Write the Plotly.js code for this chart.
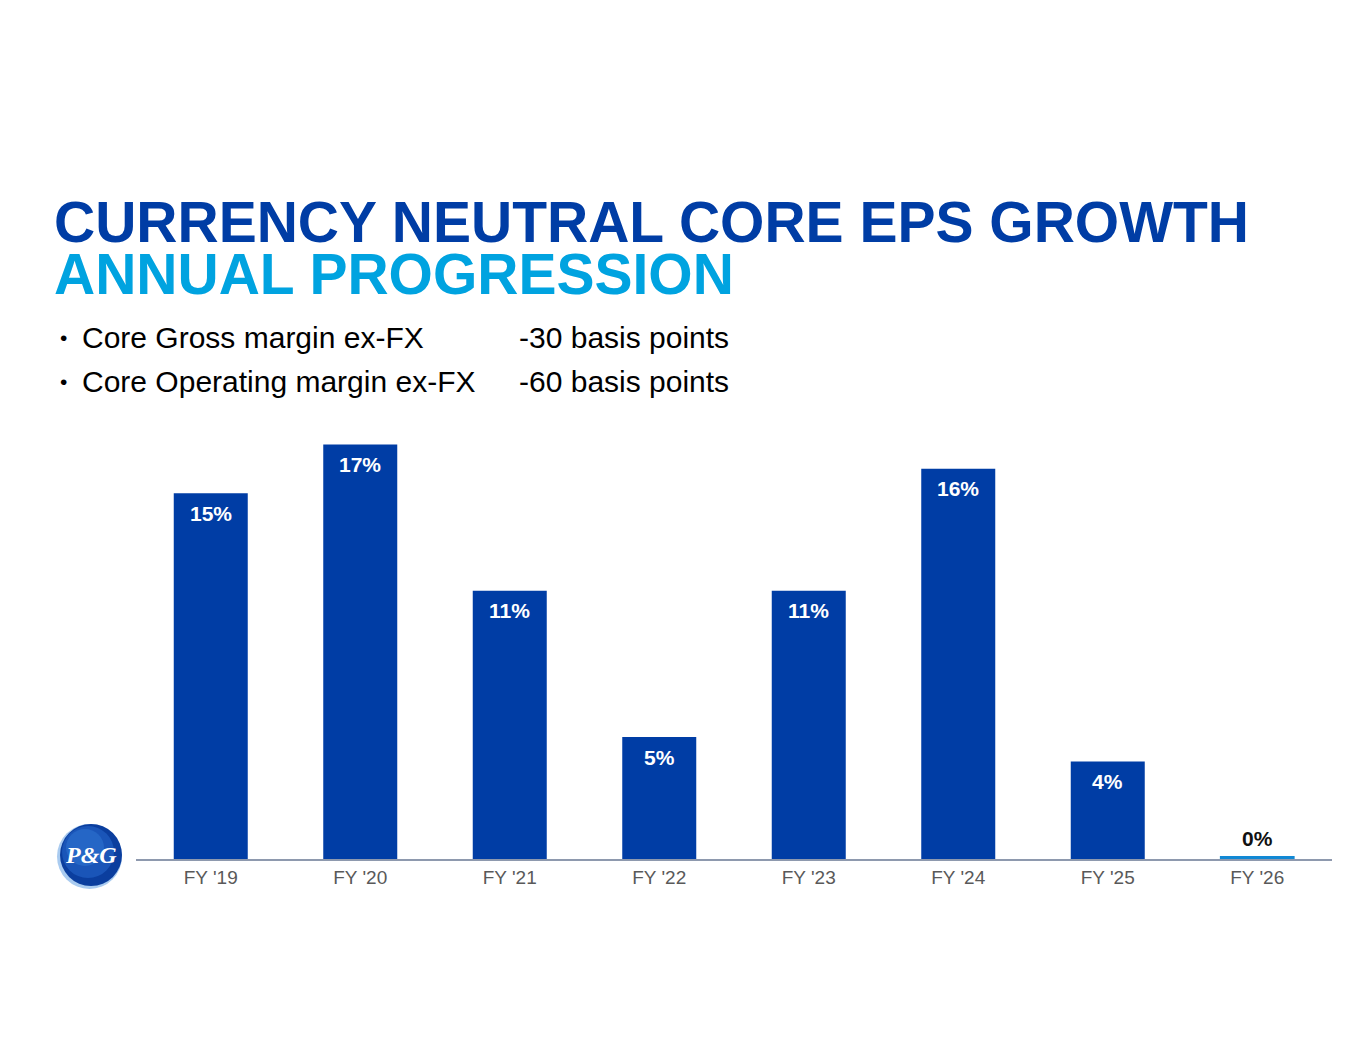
<!DOCTYPE html>
<html>
<head>
<meta charset="utf-8">
<script src="https://cdn.plot.ly/plotly-3.0.1.min.js"></script>
<style>
  html, body { margin: 0; padding: 0; background: #fff; }
  #chart { width: 1365px; height: 1055px; }
</style>
</head>
<body>
<div id="chart"></div>
<script>
// data
const years = ["FY '19", "FY '20", "FY '21", "FY '22", "FY '23", "FY '24", "FY '25", "FY '26"];
const epsGrowth = [15, 17, 11, 5, 11, 16, 4, 0];
const bulletLabels = ["Core Gross margin ex-FX", "Core Operating margin ex-FX"];
const bulletValues = ["-30 basis points", "-60 basis points"];

const DARK_BLUE = '#003DA5';
const LIGHT_BLUE = '#00A3E0';
const ZERO_BLUE = '#1188D4';
const FONT = 'Liberation Sans, Arial, sans-serif';

// plot area in page pixels (used only to place the free text)
const PL = 136, PR = 1332, PB = 859, PT = 420;
const px = x => (x - PL) / (PR - PL);
const py = y => (PB - y) / (PB - PT);

const annotations = [];
const shapes = [];

// value labels
epsGrowth.forEach((v, i) => {
  const zero = v === 0;
  annotations.push({
    x: years[i], y: v, xref: 'x', yref: 'y',
    text: '<b>' + v + '%</b>',
    showarrow: false,
    yshift: zero ? 21 : -20,
    font: { family: FONT, size: 21, color: zero ? '#111' : '#fff' }
  });
  // zero-value bar drawn as a thin strip on the baseline
  if (zero) {
    shapes.push({
      type: 'rect', xref: 'x', yref: 'y', ysizemode: 'pixel', yanchor: v,
      x0: i - 0.25, x1: i + 0.25, y0: 0, y1: 3,
      fillcolor: ZERO_BLUE, line: { width: 0 }, layer: 'above'
    });
  }
});

// title (two lines, fixed box height so they stack tightly)
annotations.push({
  xref: 'paper', yref: 'paper', x: px(52), y: py(222), xanchor: 'left', yanchor: 'middle',
  height: 50, valign: 'middle',
  text: '<b>CURRENCY NEUTRAL CORE EPS GROWTH</b>', showarrow: false,
  font: { family: FONT, size: 57, color: DARK_BLUE }
});
annotations.push({
  xref: 'paper', yref: 'paper', x: px(52), y: py(274), xanchor: 'left', yanchor: 'middle',
  height: 50, valign: 'middle',
  text: '<b>ANNUAL PROGRESSION</b>', showarrow: false,
  font: { family: FONT, size: 57, color: LIGHT_BLUE }
});

// bullets
bulletLabels.forEach((lab, i) => {
  const yy = py(337 + i * 44);
  annotations.push({
    xref: 'paper', yref: 'paper', x: px(58), y: yy, xanchor: 'left', yanchor: 'middle',
    text: '•', showarrow: false, font: { family: FONT, size: 21, color: '#000' }
  });
  annotations.push({
    xref: 'paper', yref: 'paper', x: px(80), y: yy, xanchor: 'left', yanchor: 'middle',
    text: lab, showarrow: false, font: { family: FONT, size: 30, color: '#000' }
  });
  annotations.push({
    xref: 'paper', yref: 'paper', x: px(517), y: yy, xanchor: 'left', yanchor: 'middle',
    text: bulletValues[i], showarrow: false, font: { family: FONT, size: 30, color: '#000' }
  });
});

// P&G logo
const logoCircle = (l, r, t, b, color) => ({
  type: 'circle', xref: 'paper', yref: 'paper',
  x0: px(l), x1: px(r), y0: py(b), y1: py(t),
  fillcolor: color, line: { width: 0 }
});
shapes.push(logoCircle(57, 122, 824, 889, '#A9CBF0'));
shapes.push(logoCircle(60, 122, 824, 886, '#0B3E9E'));
shapes.push(logoCircle(62, 114, 826, 878, '#1A55B8'));
shapes.push(logoCircle(66, 104, 829, 866, '#2566C6'));
annotations.push({
  xref: 'paper', yref: 'paper', x: px(91), y: py(855), xanchor: 'center', yanchor: 'middle',
  text: 'P&G', showarrow: false,
  font: { family: 'Liberation Serif, Times New Roman, serif', size: 24, color: '#fff',
          weight: 'bold', style: 'italic' }
});

const trace = {
  type: 'bar',
  x: years,
  y: epsGrowth,
  marker: { color: DARK_BLUE },
  hoverinfo: 'none'
};

const layout = {
  width: 1365, height: 1055,
  margin: { l: PL, r: 1365 - PR, t: PT, b: 1055 - PB },
  paper_bgcolor: '#fff', plot_bgcolor: '#fff',
  showlegend: false,
  bargap: 0.505,
  xaxis: {
    type: 'category',
    showline: true, linecolor: '#8E99AE', linewidth: 2,
    showgrid: false, ticks: '',
    tickfont: { family: FONT, size: 19, color: '#595959' }
  },
  yaxis: { visible: false, range: [0, 18], fixedrange: true },
  annotations: annotations,
  shapes: shapes
};

Plotly.newPlot('chart', [trace], layout, { displayModeBar: false, staticPlot: true });
</script>
</body>
</html>
